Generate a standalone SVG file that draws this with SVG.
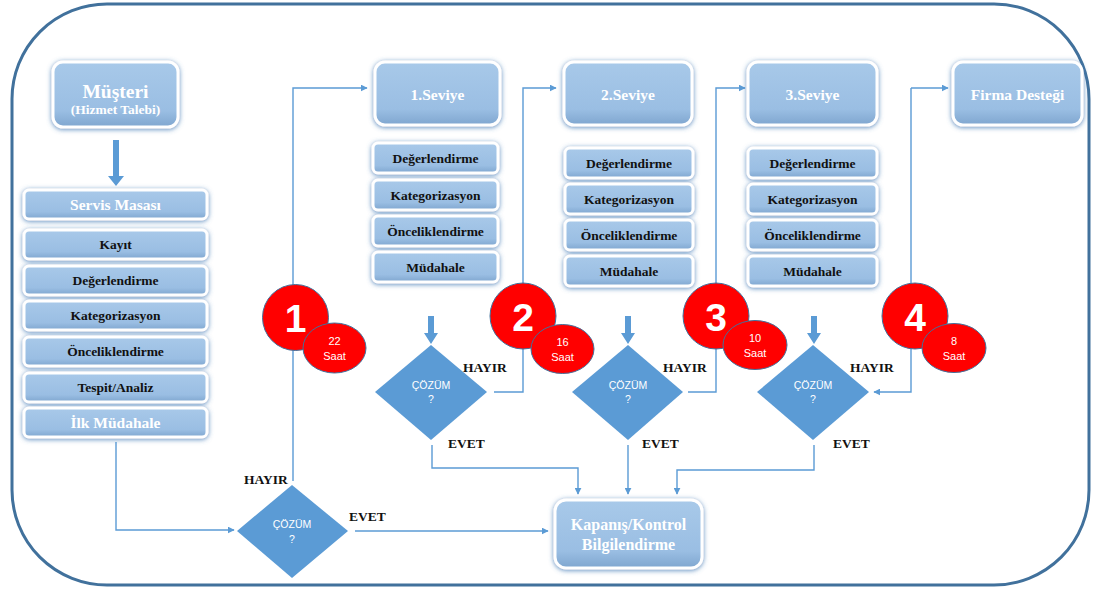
<svg xmlns="http://www.w3.org/2000/svg" width="1099" height="590" viewBox="0 0 1099 590">
  <defs>
    <linearGradient id="boxFill" x1="0" y1="0" x2="0" y2="1">
      <stop offset="0" stop-color="#a8c9e9"/>
      <stop offset="0.75" stop-color="#9abee3"/>
      <stop offset="1" stop-color="#7fa6cf"/>
    </linearGradient>
    <filter id="glow" x="-20%" y="-40%" width="140%" height="180%">
      <feDropShadow dx="0" dy="1" stdDeviation="2.6" flood-color="#3f78b4" flood-opacity="0.85"/>
    </filter>
    <marker id="arr" viewBox="0 0 10 10" refX="9" refY="5" markerWidth="7" markerHeight="7" markerUnits="userSpaceOnUse" orient="auto">
      <path d="M0,0 L10,5 L0,10 z" fill="#5b9bd5"/>
    </marker>
    <style>
      .box { fill: url(#boxFill); stroke: #ffffff; stroke-width: 3; filter: url(#glow); }
      .hdr { font-family: "Liberation Serif", "Times New Roman", serif; font-weight: bold; fill: #ffffff; text-anchor: middle; }
      .sub { font-family: "Liberation Serif", "Times New Roman", serif; font-weight: bold; font-size: 13.5px; fill: #111111; text-anchor: middle; }
      .lbl { font-family: "Liberation Serif", "Times New Roman", serif; font-weight: bold; font-size: 13.5px; fill: #111111; }
      .dia { fill: #5b9bd5; }
      .dtx { font-family: "Liberation Sans", Arial, sans-serif; font-size: 10.5px; fill: #ffffff; text-anchor: middle; }
      .con { fill: none; stroke: #5b9bd5; stroke-width: 1.4; }
      .blk { fill: #5b9bd5; }
      .big { fill: #ff0000; stroke: #41719c; stroke-width: 1; }
      .num { font-family: "Liberation Sans", Arial, sans-serif; font-weight: bold; font-size: 39px; fill: #ffffff; text-anchor: middle; }
      .hrs { font-family: "Liberation Sans", Arial, sans-serif; font-size: 11px; fill: #ffffff; text-anchor: middle; }
    </style>
  </defs>

  <!-- outer frame -->
  <rect x="12" y="4" width="1077" height="581" rx="95" ry="95" fill="#ffffff" stroke="#41719c" stroke-width="3"/>

  <!-- connectors -->
  <g id="connectors">
    <!-- Müşteri to Servis Masası block arrow -->
    <path class="blk" d="M113,140 L119,140 L119,176 L124,176 L116,186 L108,176 L113,176 z"/>
    <!-- block arrows into the level decisions -->
    <path class="blk" d="M428,316 L434,316 L434,333 L438,333 L431,344 L424,333 L428,333 z"/>
    <path class="blk" d="M625,316 L631,316 L631,333 L635,333 L628,344 L621,333 L625,333 z"/>
    <path class="blk" d="M811,316 L817,316 L817,333 L821,333 L814,344 L807,333 L811,333 z"/>
    <!-- İlk Müdahale to first decision -->
    <path class="con" d="M116,442 L116,530 L234,530" marker-end="url(#arr)"/>
    <!-- first decision: HAYIR to 1.Seviye -->
    <path class="con" d="M293,481 L293,88 L367,88" marker-end="url(#arr)"/>
    <!-- first decision: EVET to Kapanış -->
    <path class="con" d="M355,531 L548,531" marker-end="url(#arr)"/>
    <!-- level 1 decision: HAYIR to 2.Seviye -->
    <path class="con" d="M494,392 L523,392 L523,88 L556,88" marker-end="url(#arr)"/>
    <!-- level 2 decision: HAYIR to 3.Seviye -->
    <path class="con" d="M688,392 L716,392 L716,88 L745,88" marker-end="url(#arr)"/>
    <!-- level 3 decision: HAYIR to Firma Desteği and back -->
    <path class="con" d="M911,88 L948,88" marker-end="url(#arr)"/>
    <path class="con" d="M911,88 L911,392 L874,392" marker-end="url(#arr)"/>
    <!-- EVET branches to Kapanış -->
    <path class="con" d="M432,445 L432,468 L578,468 L578,494" marker-end="url(#arr)"/>
    <path class="con" d="M628,445 L628,494" marker-end="url(#arr)"/>
    <path class="con" d="M814,445 L814,470 L677,470 L677,494" marker-end="url(#arr)"/>
  </g>

  <!-- customer -->
  <g id="musteri">
    <rect class="box" x="53" y="62" width="125" height="65" rx="10"/>
    <text class="hdr" x="115.5" y="98" font-size="19.5">Müşteri</text>
    <text class="hdr" x="115.5" y="114" font-size="13.5">(Hizmet Talebi)</text>
  </g>

  <!-- service desk column -->
  <g id="servis-masasi">
    <rect class="box" x="24" y="190" width="183" height="29" rx="5"/>
    <text class="hdr" x="115.5" y="210" font-size="15.5">Servis Masası</text>
  </g>
  <g id="sm-kayit">
    <rect class="box" x="24" y="230" width="183" height="29" rx="5"/>
    <text class="sub" x="115.5" y="249">Kayıt</text>
  </g>
  <g id="sm-degerlendirme">
    <rect class="box" x="24" y="266" width="183" height="29" rx="5"/>
    <text class="sub" x="115.5" y="285">Değerlendirme</text>
  </g>
  <g id="sm-kategorizasyon">
    <rect class="box" x="24" y="301" width="183" height="29" rx="5"/>
    <text class="sub" x="115.5" y="320">Kategorizasyon</text>
  </g>
  <g id="sm-onceliklendirme">
    <rect class="box" x="24" y="337" width="183" height="29" rx="5"/>
    <text class="sub" x="115.5" y="356">Önceliklendirme</text>
  </g>
  <g id="sm-tespit">
    <rect class="box" x="24" y="373" width="183" height="29" rx="5"/>
    <text class="sub" x="115.5" y="392">Tespit/Analiz</text>
  </g>
  <g id="sm-ilk-mudahale">
    <rect class="box" x="24" y="408" width="183" height="29" rx="5"/>
    <text class="hdr" x="115.5" y="428" font-size="15.5">İlk Müdahale</text>
  </g>

  <!-- level 1 -->
  <g id="seviye1">
    <rect class="box" x="375" y="62" width="125" height="63" rx="10"/>
    <text class="hdr" x="437.5" y="100" font-size="15.5">1.Seviye</text>
  </g>
  <g id="s1-steps">
    <rect class="box" x="373" y="143" width="125" height="30" rx="5"/>
    <text class="sub" x="435.5" y="163">Değerlendirme</text>
    <rect class="box" x="373" y="180" width="125" height="30" rx="5"/>
    <text class="sub" x="435.5" y="200">Kategorizasyon</text>
    <rect class="box" x="373" y="216" width="125" height="30" rx="5"/>
    <text class="sub" x="435.5" y="236">Önceliklendirme</text>
    <rect class="box" x="373" y="252" width="125" height="30" rx="5"/>
    <text class="sub" x="435.5" y="272">Müdahale</text>
  </g>

  <!-- level 2 -->
  <g id="seviye2">
    <rect class="box" x="564" y="62" width="128" height="63" rx="10"/>
    <text class="hdr" x="628" y="100" font-size="15.5">2.Seviye</text>
  </g>
  <g id="s2-steps">
    <rect class="box" x="565" y="148" width="128" height="30" rx="5"/>
    <text class="sub" x="629" y="168">Değerlendirme</text>
    <rect class="box" x="565" y="184" width="128" height="30" rx="5"/>
    <text class="sub" x="629" y="204">Kategorizasyon</text>
    <rect class="box" x="565" y="220" width="128" height="30" rx="5"/>
    <text class="sub" x="629" y="240">Önceliklendirme</text>
    <rect class="box" x="565" y="256" width="128" height="30" rx="5"/>
    <text class="sub" x="629" y="276">Müdahale</text>
  </g>

  <!-- level 3 -->
  <g id="seviye3">
    <rect class="box" x="748" y="62" width="129" height="63" rx="10"/>
    <text class="hdr" x="812.5" y="100" font-size="15.5">3.Seviye</text>
  </g>
  <g id="s3-steps">
    <rect class="box" x="748" y="148" width="129" height="30" rx="5"/>
    <text class="sub" x="812.5" y="168">Değerlendirme</text>
    <rect class="box" x="748" y="184" width="129" height="30" rx="5"/>
    <text class="sub" x="812.5" y="204">Kategorizasyon</text>
    <rect class="box" x="748" y="220" width="129" height="30" rx="5"/>
    <text class="sub" x="812.5" y="240">Önceliklendirme</text>
    <rect class="box" x="748" y="256" width="129" height="30" rx="5"/>
    <text class="sub" x="812.5" y="276">Müdahale</text>
  </g>

  <!-- vendor support -->
  <g id="firma-destegi">
    <rect class="box" x="953" y="62" width="129" height="63" rx="10"/>
    <text class="hdr" x="1017.5" y="100" font-size="15.5">Firma Desteği</text>
  </g>

  <!-- closure -->
  <g id="kapanis">
    <rect class="box" x="555" y="500" width="147" height="68" rx="11"/>
    <text class="hdr" x="628.5" y="530" font-size="16">Kapanış/Kontrol</text>
    <text class="hdr" x="628.5" y="550" font-size="16">Bilgilendirme</text>
  </g>

  <!-- decisions -->
  <g id="karar0">
    <polygon class="dia" points="292,485 348,531 292,578 237,531"/>
    <text class="dtx" x="292" y="528">ÇÖZÜM</text>
    <text class="dtx" x="292" y="543">?</text>
    <text class="lbl" x="244" y="484">HAYIR</text>
    <text class="lbl" x="349" y="521">EVET</text>
  </g>
  <g id="karar1">
    <polygon class="dia" points="431,345 487,392 431,440 375,392"/>
    <text class="dtx" x="431" y="389">ÇÖZÜM</text>
    <text class="dtx" x="431" y="403">?</text>
    <text class="lbl" x="463" y="372">HAYIR</text>
    <text class="lbl" x="448" y="448">EVET</text>
  </g>
  <g id="karar2">
    <polygon class="dia" points="628,345 683,392 628,440 572,392"/>
    <text class="dtx" x="628" y="389">ÇÖZÜM</text>
    <text class="dtx" x="628" y="403">?</text>
    <text class="lbl" x="663" y="372">HAYIR</text>
    <text class="lbl" x="642" y="448">EVET</text>
  </g>
  <g id="karar3">
    <polygon class="dia" points="813,345 869,392 813,440 757,392"/>
    <text class="dtx" x="813" y="389">ÇÖZÜM</text>
    <text class="dtx" x="813" y="403">?</text>
    <text class="lbl" x="850" y="372">HAYIR</text>
    <text class="lbl" x="833" y="448">EVET</text>
  </g>

  <!-- time badges -->
  <g id="rozet1">
    <circle class="big" cx="295.5" cy="317.5" r="33"/>
    <text class="num" x="295.5" y="332">1</text>
    <ellipse class="big" cx="334.5" cy="348" rx="31.5" ry="25"/>
    <text class="hrs" x="334.5" y="345">22</text>
    <text class="hrs" x="334.5" y="360">Saat</text>
  </g>
  <g id="rozet2">
    <circle class="big" cx="523" cy="316" r="33"/>
    <text class="num" x="523" y="331">2</text>
    <ellipse class="big" cx="562.5" cy="349" rx="31.5" ry="24.5"/>
    <text class="hrs" x="562.5" y="346">16</text>
    <text class="hrs" x="562.5" y="361">Saat</text>
  </g>
  <g id="rozet3">
    <circle class="big" cx="716" cy="316" r="33"/>
    <text class="num" x="716" y="331">3</text>
    <ellipse class="big" cx="755" cy="345" rx="32" ry="24.5"/>
    <text class="hrs" x="755" y="342">10</text>
    <text class="hrs" x="755" y="357">Saat</text>
  </g>
  <g id="rozet4">
    <circle class="big" cx="915" cy="316" r="33"/>
    <text class="num" x="915" y="331">4</text>
    <ellipse class="big" cx="954" cy="348" rx="32" ry="24.5"/>
    <text class="hrs" x="954" y="345">8</text>
    <text class="hrs" x="954" y="360">Saat</text>
  </g>
</svg>
